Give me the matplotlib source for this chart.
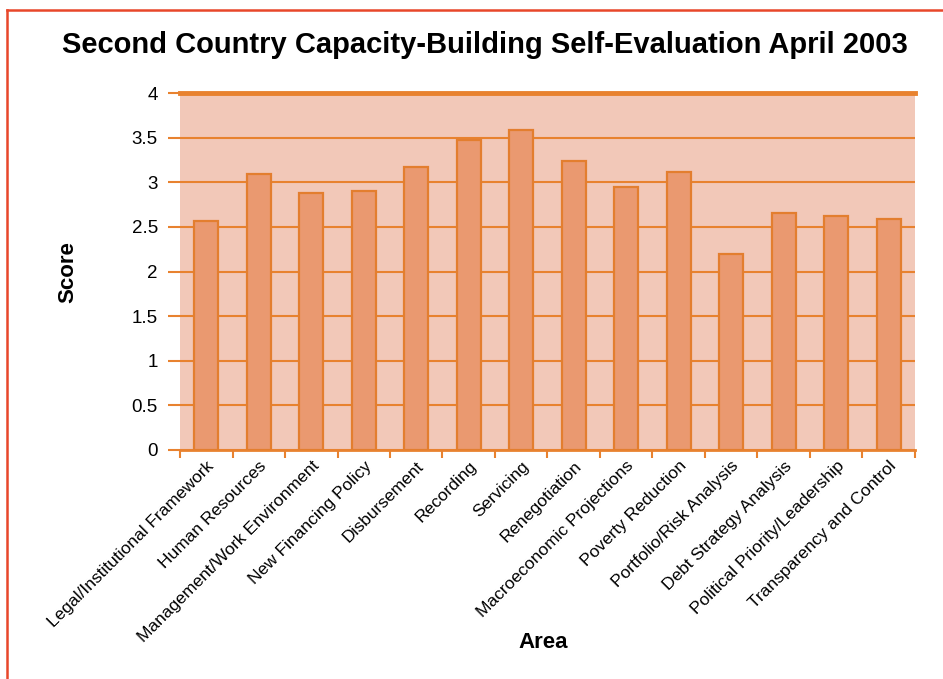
import matplotlib.pyplot as plt
from matplotlib.lines import Line2D

areas = ['Legal/Institutional Framework', 'Human Resources', 'Management/Work Environment',
         'New Financing Policy', 'Disbursement', 'Recording', 'Servicing', 'Renegotiation',
         'Macroeconomic Projections', 'Poverty Reduction', 'Portfolio/Risk Analysis',
         'Debt Strategy Analysis', 'Political Priority/Leadership', 'Transparency and Control']
scores = [2.57, 3.09, 2.88, 2.905, 3.17, 3.47, 3.585, 3.24, 2.95, 3.115, 2.20, 2.66, 2.62, 2.585]
yticks = [0, 0.5, 1, 1.5, 2, 2.5, 3, 3.5, 4]
ytick_labels = ['0', '0.5', '1', '1.5', '2', '2.5', '3', '3.5', '4']

plt.rcParams['font.family'] = ['Liberation Sans', 'DejaVu Sans']

orange = '#E8822F'
W, H = 943, 679
fig = plt.figure(figsize=(9.43, 6.79), dpi=100)
ax = fig.add_axes([180 / W, 1 - 450 / H, (915 - 180) / W, (450 - 93) / H])
ax.set_facecolor('#F2C8B8')

x = list(range(len(areas)))
ax.bar(x, scores, width=0.46, color='#EA9970', edgecolor='#E37E2F', linewidth=1.6, zorder=3)

ax.set_xlim(-0.5, len(areas) - 0.5)
ax.set_ylim(0, 4)
ax.set_yticks(yticks)
ax.set_yticklabels(ytick_labels, fontsize=13.5)
ax.yaxis.grid(True, color=orange, linewidth=1.5, zorder=1)
ax.set_axisbelow(True)
ax.axhline(4, color=orange, linewidth=3.5, zorder=4, clip_on=False)
ax.tick_params(axis='y', length=9, width=1.5, color=orange, pad=7)

ax.set_xticks([i - 0.5 for i in range(len(areas) + 1)])
ax.set_xticklabels([])
ax.set_xticks(x, minor=True)
ax.set_xticklabels(areas, minor=True, rotation=45, ha='right', rotation_mode='anchor', fontsize=12.5)
ax.tick_params(axis='x', which='major', length=6, width=1.5, color=orange)
ax.tick_params(axis='x', which='minor', length=0, pad=6)

for s in ['top', 'right', 'left']:
    ax.spines[s].set_visible(False)
ax.spines['bottom'].set_color(orange)
ax.spines['bottom'].set_linewidth(2)

fig.text(485 / W, 1 - 45 / H, 'Second Country Capacity-Building Self-Evaluation April 2003',
         ha='center', va='center', fontsize=21, fontweight='bold')
fig.text(68 / W, 1 - 272 / H, 'Score', rotation=90, ha='center', va='center',
         fontsize=16, fontweight='bold')
fig.text(543 / W, 1 - 643 / H, 'Area', ha='center', va='center', fontsize=16, fontweight='bold')

# border on top and left
fig.add_artist(Line2D([7 / W, 1], [1 - 10 / H, 1 - 10 / H], color='#E8472A', linewidth=1.8,
                      transform=fig.transFigure))
fig.add_artist(Line2D([7 / W, 7 / W], [0, 1 - 10 / H], color='#E8472A', linewidth=1.8,
                      transform=fig.transFigure))

fig.savefig('out.png', dpi=100)
